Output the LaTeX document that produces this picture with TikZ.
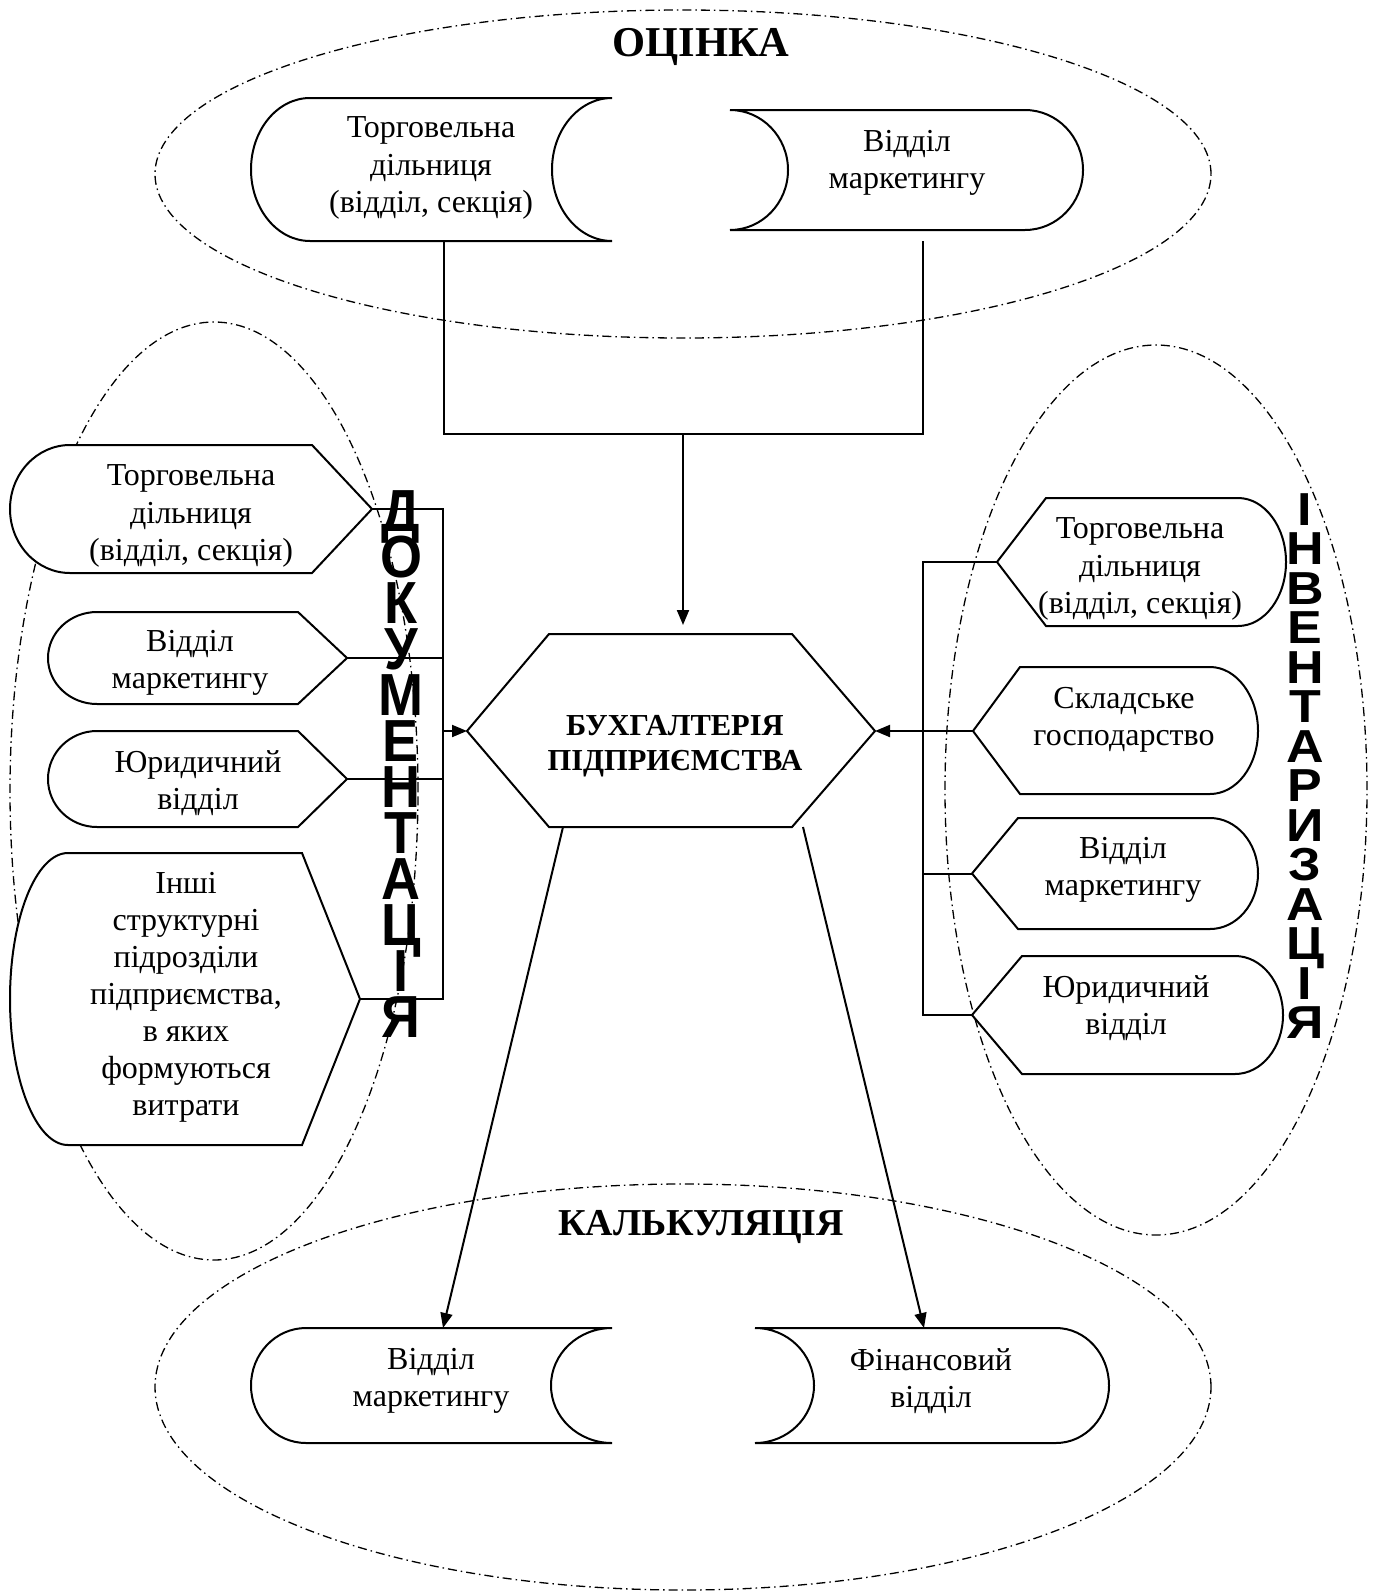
\documentclass[tikz,border=0pt]{standalone}
\usepackage{fontspec}
\setmainfont{Liberation Serif}
\newfontfamily\arialfont{Liberation Sans}
\usetikzlibrary{arrows.meta}
\newcommand{\lletr}[1]{\hbox to 60pt{\hss\scalebox{1}[1.1]{#1}\hss}}
\newcommand{\rletr}[1]{\hbox to 60pt{\hss\scalebox{1}[0.89]{#1}\hss}}
\begin{document}
\begin{tikzpicture}[x=1pt,y=-1pt,
  ln/.style={line width=2pt, line join=miter},
  shp/.style={line width=2pt, fill=white, line join=miter},
  oval/.style={line width=1.3pt, dash pattern=on 9pt off 4pt on 1.5pt off 4pt},
  arr/.style={ln, -{Triangle[length=15pt,width=12pt]}},
  txt/.style={align=center, font=\fontsize{32}{37.5}\selectfont, inner sep=0pt},
  btxt/.style={align=center, font=\bfseries\fontsize{30.5}{35}\selectfont, inner sep=0pt},
  ttl/.style={font=\bfseries\fontsize{38}{44}\selectfont, inner sep=0pt},
  vcol/.style={inner sep=0pt, anchor=north}]
\useasboundingbox (0,0) rectangle (1373,1593);

% dash-dot ovals
\draw[oval] (683,174) ellipse [x radius=528pt, y radius=164pt];
\draw[oval] (214,791) ellipse [x radius=204pt, y radius=469pt];
\draw[oval] (1156,790) ellipse [x radius=211pt, y radius=445pt];
\draw[oval] (683,1387) ellipse [x radius=528pt, y radius=203pt];

% top stored-data shapes
\draw[shp] (310,98) -- (612,98) .. controls (578.9,98) and (552,130) .. (552,169.5)
  .. controls (552,209) and (578.9,241) .. (612,241) -- (310,241)
  .. controls (277.4,241) and (251,209) .. (251,169.5)
  .. controls (251,130) and (277.4,98) .. (310,98) -- cycle;
\draw[shp] (730,110) -- (1025,110) .. controls (1057,110) and (1083,136.9) .. (1083,170)
  .. controls (1083,203.1) and (1057,230) .. (1025,230) -- (730,230)
  .. controls (762,230) and (788,203.1) .. (788,170)
  .. controls (788,136.9) and (762,110) .. (730,110) -- cycle;

% bottom stored-data shapes
\draw[shp] (306,1328) -- (612,1328) .. controls (578.3,1328) and (551,1353.8) .. (551,1385.5)
  .. controls (551,1417.2) and (578.3,1443) .. (612,1443) -- (306,1443)
  .. controls (275.6,1443) and (251,1417.2) .. (251,1385.5)
  .. controls (251,1353.8) and (275.6,1328) .. (306,1328) -- cycle;
\draw[shp] (755,1328) -- (1056,1328) .. controls (1085.3,1328) and (1109,1353.8) .. (1109,1385.5)
  .. controls (1109,1417.2) and (1085.3,1443) .. (1056,1443) -- (755,1443)
  .. controls (787.6,1443) and (814,1417.2) .. (814,1385.5)
  .. controls (814,1353.8) and (787.6,1328) .. (755,1328) -- cycle;

% left display shapes
\draw[shp] (70,445) -- (312,445) -- (372,509) -- (312,573) -- (70,573)
  .. controls (36.9,573) and (10,544.3) .. (10,509) .. controls (10,473.7) and (36.9,445) .. (70,445) -- cycle;
\draw[shp] (97,612) -- (298,612) -- (347,658) -- (298,704) -- (97,704)
  .. controls (70,704) and (48,683.4) .. (48,658) .. controls (48,632.6) and (70,612) .. (97,612) -- cycle;
\draw[shp] (97,731) -- (298,731) -- (347,779) -- (298,827) -- (97,827)
  .. controls (70,827) and (48,805.5) .. (48,779) .. controls (48,752.5) and (70,731) .. (97,731) -- cycle;
\draw[shp] (68,853) -- (302,853) -- (360,999) -- (302,1145) -- (68,1145)
  .. controls (36,1145) and (10,1079.6) .. (10,999) .. controls (10,918.4) and (36,853) .. (68,853) -- cycle;

% right display shapes
\draw[shp] (1046,498) -- (1238,498) .. controls (1264.5,498) and (1286,526.7) .. (1286,562)
  .. controls (1286,597.3) and (1264.5,626) .. (1238,626) -- (1046,626) -- (997,562) -- cycle;
\draw[shp] (1020,667) -- (1210,667) .. controls (1236.5,667) and (1258,696) .. (1258,731)
  .. controls (1258,766) and (1236.5,794) .. (1210,794) -- (1020,794) -- (973,731) -- cycle;
\draw[shp] (1018,818) -- (1210,818) .. controls (1236.5,818) and (1258,842.9) .. (1258,873.5)
  .. controls (1258,904.1) and (1236.5,929) .. (1210,929) -- (1018,929) -- (972,873.5) -- cycle;
\draw[shp] (1022,956) -- (1235,956) .. controls (1261.5,956) and (1283,982.4) .. (1283,1015)
  .. controls (1283,1047.6) and (1261.5,1074) .. (1235,1074) -- (1022,1074) -- (972,1015) -- cycle;

% hexagon
\draw[shp] (549,634) -- (792,634) -- (875,731) -- (792,827) -- (549,827) -- (467,731) -- cycle;

% connector points
\coordinate (TLb) at (444,241);
\coordinate (TRb) at (923,241);
\coordinate (TLj) at (444,434);
\coordinate (TRj) at (923,434);
\coordinate (Tj) at (683,434);
\coordinate (HexT) at (683,634);
\coordinate (HexL) at (467,731);
\coordinate (HexR) at (875,731);
\coordinate (HexBL) at (563,827);
\coordinate (HexBR) at (803,827);
\coordinate (BLt) at (443,1328);
\coordinate (BRt) at (924,1328);
\coordinate (L1p) at (372,509);
\coordinate (L2p) at (347,658);
\coordinate (L3p) at (347,779);
\coordinate (L4p) at (360,999);
\coordinate (LB1) at (443,509);
\coordinate (LB2) at (443,658);
\coordinate (LB3) at (443,779);
\coordinate (LB4) at (443,999);
\coordinate (LBa) at (443,731);
\coordinate (R1p) at (997,562);
\coordinate (R2p) at (973,731);
\coordinate (R3p) at (972,873.5);
\coordinate (R4p) at (972,1015);
\coordinate (RB1) at (923,562);
\coordinate (RB3) at (923,873.5);
\coordinate (RB4) at (923,1015);

% connectors
\draw[ln] (TLb) -- (TLj) -- (TRj) -- (TRb);
\draw[arr, shorten >=9pt] (Tj) -- (HexT);
\draw[ln] (L1p) -- (LB1) -- (LB4) -- (L4p);
\draw[ln] (L2p) -- (LB2);
\draw[ln] (L3p) -- (LB3);
\draw[arr] (LBa) -- (HexL);
\draw[ln] (R1p) -- (RB1) -- (RB4) -- (R4p);
\draw[ln] (R3p) -- (RB3);
\draw[arr] (R2p) -- (HexR);
\draw[arr] (HexBL) -- (BLt);
\draw[arr] (HexBR) -- (BRt);

% texts
\node[ttl, font=\bfseries\fontsize{42.5}{48}\selectfont] (tOc) at (701,47) {ОЦІНКА};
\node[ttl] (tKal) at (701,1227) {КАЛЬКУЛЯЦІЯ};
\node[txt] (tTL) at (431,168) {Торговельна\\дільниця\\(відділ, секція)};
\node[txt] (tTR) at (907,163) {Відділ\\маркетингу};
\node[txt] (tBL) at (431,1381) {Відділ\\маркетингу};
\node[txt] (tBR) at (931,1381) {Фінансовий\\відділ};
\node[txt] (tL1) at (191,516) {Торговельна\\дільниця\\(відділ, секція)};
\node[txt] (tL2) at (190,663) {Відділ\\маркетингу};
\node[txt] (tL3) at (198,783) {Юридичний\\відділ};
\node[txt, font=\fontsize{32}{37}\selectfont] (tL4) at (186,997) {Інші\\структурні\\підрозділи\\підприємства,\\в яких\\формуються\\витрати};
\node[txt] (tR1) at (1140,569) {Торговельна\\дільниця\\(відділ, секція)};
\node[txt] (tR2) at (1124,720) {Складське\\господарство};
\node[txt] (tR3) at (1123,870) {Відділ\\маркетингу};
\node[txt] (tR4) at (1126,1008) {Юридичний\\відділ};
\node[btxt] (tHex) at (675,746) {БУХГАЛТЕРІЯ\\ПІДПРИЄМСТВА};

% vertical lettering
\node[vcol, font=\arialfont\bfseries\fontsize{54}{46}\selectfont] (docum) at (401,490)
  {\vbox{\baselineskip=46pt\lineskiplimit=-200pt\lineskip=0pt
   \lletr{Д}\lletr{О}\lletr{К}\lletr{У}\lletr{М}\lletr{Е}\lletr{Н}\lletr{Т}\lletr{А}\lletr{Ц}\lletr{І}\lletr{Я}}};
\node[vcol, font=\arialfont\bfseries\fontsize{52}{39.5}\selectfont] (invent) at (1305,493)
  {\vbox{\baselineskip=39.5pt\lineskiplimit=-200pt\lineskip=0pt
   \rletr{І}\rletr{Н}\rletr{В}\rletr{Е}\rletr{Н}\rletr{Т}\rletr{А}\rletr{Р}\rletr{И}\rletr{З}\rletr{А}\rletr{Ц}\rletr{І}\rletr{Я}}};
\end{tikzpicture}
\end{document}
